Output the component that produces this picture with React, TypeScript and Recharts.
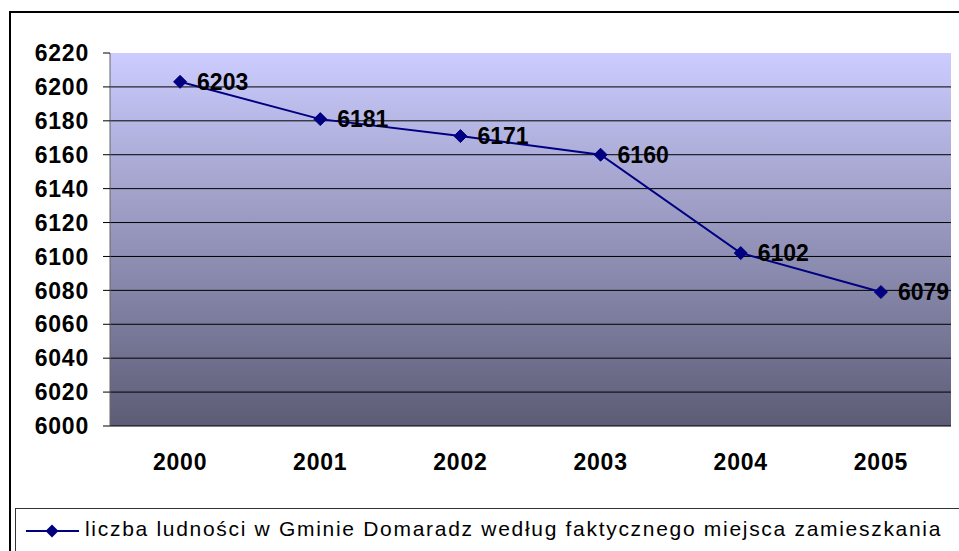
import React from 'react';
import {
  LineChart, Line, XAxis, YAxis, CartesianGrid, ReferenceArea, LabelList,
} from 'recharts';

const years = ['2000', '2001', '2002', '2003', '2004', '2005'];
const population = [6203, 6181, 6171, 6160, 6102, 6079];
const yTicks = [6000, 6020, 6040, 6060, 6080, 6100, 6120, 6140, 6160, 6180, 6200, 6220];
const gridValues = [6000, 6020, 6040, 6060, 6080, 6100, 6120, 6140, 6160, 6180, 6200];
const seriesName = 'liczba ludności w Gminie Domaradz według faktycznego miejsca zamieszkania';

const data = years.map((y, i) => ({ idx: i, year: y, value: population[i] }));
const boundaryTicks = years.map((_, i) => i - 0.5).concat([years.length - 0.5]);
const centerTicks = years.map((_, i) => i);

const FONT = '"Liberation Sans", Arial, sans-serif';
const NAVY = '#000080';

const Diamond = (props: any) => {
  const { cx, cy, index } = props;
  if (cx == null || cy == null) return null;
  const r = 6.5;
  return (
    <path
      key={`d-${index}`}
      d={`M${cx},${cy - r}L${cx + r},${cy}L${cx},${cy + r}L${cx - r},${cy}Z`}
      fill={NAVY}
      stroke={NAVY}
    />
  );
};

export default function App() {
  return (
    <div
      style={{
        position: 'absolute', left: 0, top: 0, width: 959, height: 551,
        overflow: 'hidden', background: '#fff', fontFamily: FONT,
      }}
    >
      {/* outer chart frame */}
      <div
        style={{
          position: 'absolute', left: 9, top: 11, width: 1000, height: 600,
          borderLeft: '2px solid #000', borderTop: '2px solid #000',
        }}
      />
      <div style={{ position: 'absolute', left: 0, top: 0 }}>
        <LineChart
          width={959}
          height={551}
          data={data}
          margin={{ top: 53, right: 8, left: 0, bottom: 85 }}
        >
          <defs>
            <linearGradient id="plotBg" x1="0" y1="0" x2="0" y2="1">
              <stop offset="0%" stopColor="#CCCCFF" />
              <stop offset="100%" stopColor="#5C5C76" />
            </linearGradient>
          </defs>
          <CartesianGrid
            vertical={false}
            horizontalValues={gridValues}
            stroke="#000"
            strokeWidth={1}
            fill="url(#plotBg)"
            fillOpacity={1}
          />
          <ReferenceArea
            x1={-0.5}
            x2={years.length - 0.5}
            y1={6000}
            y2={6220}
            fill="none"
            stroke="#8c8c8c"
            strokeWidth={2}
          />
          <XAxis
            xAxisId="bound"
            dataKey="idx"
            type="number"
            domain={[-0.5, years.length - 0.5]}
            ticks={boundaryTicks}
            interval={0}
            height={0}
            tick={false}
            tickSize={7}
            tickLine={{ stroke: '#000' }}
            axisLine={{ stroke: '#000' }}
          />
          <XAxis
            xAxisId="lbl"
            dataKey="idx"
            type="number"
            domain={[-0.5, years.length - 0.5]}
            ticks={centerTicks}
            interval={0}
            height={40}
            tickLine={false}
            axisLine={false}
            tickSize={0}
            tickMargin={28}
            tickFormatter={(v: number) => years[v]}
            tick={{ fontSize: 23, fontWeight: 700, fill: '#000', fontFamily: FONT, letterSpacing: 0.8 }}
          />
          <YAxis
            domain={[6000, 6220]}
            ticks={yTicks}
            interval={0}
            width={110}
            tickSize={7}
            tickMargin={14}
            tickLine={{ stroke: '#000' }}
            axisLine={{ stroke: '#666' }}
            tick={{ fontSize: 23, fontWeight: 700, fill: '#000', fontFamily: FONT, letterSpacing: 0.8 }}
          />
          <Line
            xAxisId="bound"
            dataKey="value"
            name={seriesName}
            stroke={NAVY}
            strokeWidth={2}
            dot={Diamond}
            activeDot={false}
            isAnimationActive={false}
          >
            <LabelList
              dataKey="value"
              position="right"
              offset={17}
              fill="#000"
              fontSize={23}
              fontWeight={700}
              fontFamily={FONT}
            />
          </Line>
        </LineChart>
      </div>
      {/* legend */}
      <div
        style={{
          position: 'absolute', left: 15, top: 508, width: 1000, height: 100,
          borderLeft: '1px solid #333', borderTop: '1px solid #333', background: '#fff',
        }}
      >
        <svg width={62} height={30} style={{ position: 'absolute', left: 9, top: 7 }}>
          <line x1={1} y1={15} x2={54} y2={15} stroke={NAVY} strokeWidth={2} />
          <path d="M27,8.5L33.5,15L27,21.5L20.5,15Z" fill={NAVY} />
        </svg>
        <div
          style={{
            position: 'absolute', left: 69, top: 8, fontSize: 21, letterSpacing: 1.7,
            whiteSpace: 'nowrap', color: '#000', lineHeight: '24px', fontFamily: FONT,
          }}
        >
          {seriesName}
        </div>
      </div>
    </div>
  );
}
